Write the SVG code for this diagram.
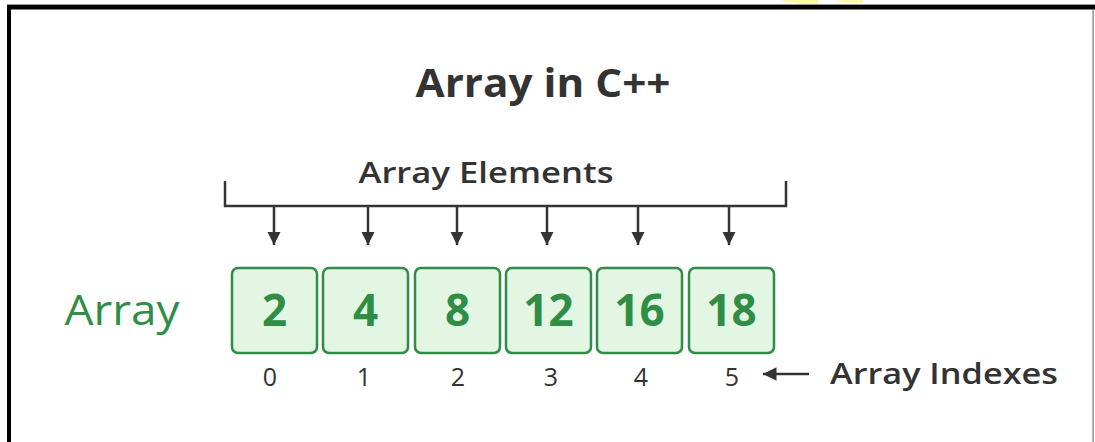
<svg xmlns="http://www.w3.org/2000/svg" width="1095" height="442" viewBox="0 0 1095 442">
<defs>
<style>
.box{fill:#e3f6e3;stroke:#2f8d46;stroke-width:2.5}
.val{font-family:"Open Sans","Liberation Sans",sans-serif;font-weight:700;font-size:44px;fill:#2f8d46;text-anchor:middle}
.idx{font-family:"Open Sans","Liberation Sans",sans-serif;font-size:25px;fill:#333;text-anchor:middle}
.dark{font-family:"Open Sans","Liberation Sans",sans-serif;fill:#333}
.ln{stroke:#333;stroke-width:2.5;fill:none}
</style>
<marker id="ah" viewBox="0 0 10 10" refX="10" refY="5" markerWidth="5.4" markerHeight="5.4" markerUnits="strokeWidth" orient="auto">
<path d="M0,0 L10,5 L0,10 z" fill="#333"/>
</marker>
</defs>
<rect width="1095" height="442" fill="#fff"/>
<g id="frame">
<path d="M780,0 Q790,4 818,4 L818,0 z" fill="#fdf9a8"/>
<path d="M835,0 Q845,4 862,3 L864,0 z" fill="#fdf9a8"/>
<rect x="7" y="4" width="1088" height="1" fill="#999"/>
<rect x="7" y="5" width="1088" height="4.5" fill="#000"/>
<rect x="7" y="5" width="4" height="437" fill="#000"/>
<rect x="1092.5" y="9" width="1.2" height="433" fill="#777"/>
</g>
<g id="title"><text class="dark" x="543" y="97" font-size="40" font-weight="700" text-anchor="middle" textLength="255" lengthAdjust="spacingAndGlyphs">Array in C++</text></g>
<g id="elements-label"><text class="dark" x="486" y="183" font-size="29" font-weight="600" text-anchor="middle" textLength="255" lengthAdjust="spacingAndGlyphs">Array Elements</text></g>
<g id="array-label"><text x="122" y="325" font-family="'Open Sans','Liberation Sans',sans-serif" font-size="42" fill="#2f8d46" text-anchor="middle" textLength="115" lengthAdjust="spacingAndGlyphs">Array</text></g>
<g id="indexes-label"><text class="dark" x="944" y="384" font-size="28" font-weight="600" text-anchor="middle" textLength="228" lengthAdjust="spacingAndGlyphs">Array Indexes</text></g>
<g id="connectors">
<path class="ln" d="M225,181 V206 H786 V181"/>
<line class="ln" x1="274" y1="206" x2="274" y2="245" marker-end="url(#ah)"/>
<line class="ln" x1="368" y1="206" x2="368" y2="245" marker-end="url(#ah)"/>
<line class="ln" x1="457" y1="206" x2="457" y2="245" marker-end="url(#ah)"/>
<line class="ln" x1="547" y1="206" x2="547" y2="245" marker-end="url(#ah)"/>
<line class="ln" x1="638" y1="206" x2="638" y2="245" marker-end="url(#ah)"/>
<line class="ln" x1="729" y1="206" x2="729" y2="245" marker-end="url(#ah)"/>
<line class="ln" x1="809" y1="374" x2="763" y2="374" marker-end="url(#ah)"/>
</g>
<g id="cell0"><rect class="box" x="232" y="268" width="85" height="85" rx="6"/><text class="val" x="274.5" y="326">2</text><text class="idx" x="270" y="386">0</text></g>
<g id="cell1"><rect class="box" x="323" y="268" width="85" height="85" rx="6"/><text class="val" x="365.5" y="326">4</text><text class="idx" x="364" y="386">1</text></g>
<g id="cell2"><rect class="box" x="415" y="268" width="85" height="85" rx="6"/><text class="val" x="457.5" y="326">8</text><text class="idx" x="458" y="386">2</text></g>
<g id="cell3"><rect class="box" x="506" y="268" width="85" height="85" rx="6"/><text class="val" x="548.5" y="326">12</text><text class="idx" x="551" y="386">3</text></g>
<g id="cell4"><rect class="box" x="597" y="268" width="85" height="85" rx="6"/><text class="val" x="639.5" y="326">16</text><text class="idx" x="641" y="386">4</text></g>
<g id="cell5"><rect class="box" x="689" y="268" width="85" height="85" rx="6"/><text class="val" x="731.5" y="326">18</text><text class="idx" x="732" y="386">5</text></g>
</svg>
